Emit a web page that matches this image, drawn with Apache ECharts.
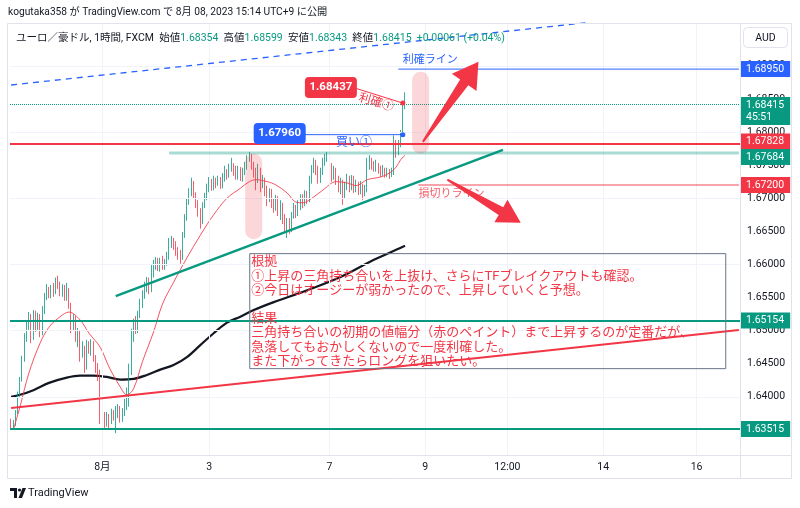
<!DOCTYPE html>
<html><head><meta charset="utf-8"><title>EURAUD 1H</title>
<script src="https://cdn.jsdelivr.net/npm/echarts/dist/echarts.min.js"></script>
<style>html,body{margin:0;padding:0;background:#fff}#c{width:800px;height:508px}</style>
</head><body><div id="c"></div>
<script>
// ---------- data ----------
const opens = [1.6362,1.6358,1.6359,1.6377,1.6403,1.6426,1.6456,1.6490,1.6509,1.6522,
1.6489,1.6524,1.6504,1.6522,1.6496,1.6531,1.6551,1.6560,1.6554,1.6563,
1.6558,1.6574,1.6570,1.6557,1.6566,1.6549,1.6561,1.6539,1.6504,1.6519,
1.6492,1.6498,1.6462,1.6474,1.6444,1.6478,1.6471,1.6481,1.6459,1.6448,
1.6438,1.6365,1.6374,1.6358,1.6371,1.6362,1.6377,1.6368,1.6373,1.6383,
1.6365,1.6377,1.6389,1.6408,1.6439,1.6493,1.6510,1.6501,1.6524,1.6542,
1.6552,1.6564,1.6572,1.6561,1.6589,1.6599,1.6604,1.6595,1.6604,1.6598,
1.6602,1.6610,1.6632,1.6637,1.6628,1.6619,1.6613,1.6608,1.6643,1.6670,
1.6693,1.6708,1.6722,1.6705,1.6693,1.6679,1.6667,1.6690,1.6703,1.6715,
1.6726,1.6717,1.6728,1.6722,1.6728,1.6720,1.6732,1.6740,1.6734,1.6746,
1.6750,1.6740,1.6734,1.6743,1.6731,1.6740,1.6750,1.6761,1.6764,1.6750,
1.6740,1.6728,1.6743,1.6720,1.6728,1.6712,1.6700,1.6709,1.6694,1.6685,
1.6700,1.6682,1.6690,1.6670,1.6658,1.6664,1.6652,1.6675,1.6682,1.6676,
1.6690,1.6700,1.6691,1.6705,1.6697,1.6728,1.6743,1.6753,1.6743,1.6728,
1.6740,1.6755,1.6761,1.6764,1.6749,1.6734,1.6743,1.6728,1.6719,1.6725,
1.6705,1.6719,1.6731,1.6722,1.6731,1.6715,1.6722,1.6712,1.6719,1.6706,
1.6712,1.6755,1.6758,1.6750,1.6746,1.6750,1.6743,1.6738,1.6743,1.6735,
1.6741,1.6734,1.6738,1.6776,1.6770,1.6783,1.67960,1.68354];
const closes = [1.6358,1.6359,1.6377,1.6403,1.6426,1.6456,1.6490,1.6509,1.6522,1.6489,
1.6524,1.6504,1.6522,1.6496,1.6531,1.6551,1.6560,1.6554,1.6563,1.6558,
1.6574,1.6570,1.6557,1.6566,1.6549,1.6561,1.6539,1.6504,1.6519,1.6492,
1.6498,1.6462,1.6474,1.6444,1.6478,1.6471,1.6481,1.6459,1.6448,1.6438,
1.6365,1.6374,1.6358,1.6371,1.6362,1.6377,1.6368,1.6373,1.6383,1.6365,
1.6377,1.6389,1.6408,1.6439,1.6493,1.6510,1.6501,1.6524,1.6542,1.6552,
1.6564,1.6572,1.6561,1.6589,1.6599,1.6604,1.6595,1.6604,1.6598,1.6602,
1.6610,1.6632,1.6637,1.6628,1.6619,1.6613,1.6608,1.6643,1.6670,1.6693,
1.6708,1.6722,1.6705,1.6693,1.6679,1.6667,1.6690,1.6703,1.6715,1.6726,
1.6717,1.6728,1.6722,1.6728,1.6720,1.6732,1.6740,1.6734,1.6746,1.6750,
1.6740,1.6734,1.6743,1.6731,1.6740,1.6750,1.6761,1.6764,1.6750,1.6740,
1.6728,1.6743,1.6720,1.6728,1.6712,1.6700,1.6709,1.6694,1.6685,1.6700,
1.6682,1.6690,1.6670,1.6658,1.6664,1.6652,1.6675,1.6682,1.6676,1.6690,
1.6700,1.6691,1.6705,1.6697,1.6728,1.6743,1.6753,1.6743,1.6728,1.6740,
1.6755,1.6761,1.6764,1.6749,1.6734,1.6743,1.6728,1.6719,1.6725,1.6705,
1.6719,1.6731,1.6722,1.6731,1.6715,1.6722,1.6712,1.6719,1.6706,1.6712,
1.6755,1.6758,1.6750,1.6746,1.6750,1.6743,1.6738,1.6743,1.6735,1.6741,
1.6734,1.6738,1.6776,1.6770,1.6783,1.67960,1.68354,1.68415];
const lows = [1.6353,1.6350,1.6356,1.6374,1.6400,1.6423,1.6453,1.6483,1.6501,1.6481,
1.6486,1.6498,1.6501,1.6490,1.6493,1.6525,1.6546,1.6549,1.6549,1.6551,
1.6555,1.6563,1.6552,1.6551,1.6545,1.6545,1.6533,1.6496,1.6500,1.6483,
1.6475,1.6453,1.6459,1.6436,1.6441,1.6465,1.6462,1.6453,1.6436,1.6424,
1.6359,1.6359,1.6353,1.6355,1.6353,1.6359,1.6364,1.6345,1.6368,1.6361,
1.6362,1.6371,1.6380,1.6385,1.6433,1.6483,1.6495,1.6496,1.6519,1.6534,
1.6548,1.6558,1.6555,1.6558,1.6580,1.6592,1.6590,1.6589,1.6592,1.6592,
1.6598,1.6607,1.6625,1.6622,1.6613,1.6607,1.6601,1.6607,1.6640,1.6666,
1.6690,1.6703,1.6699,1.6685,1.6672,1.6654,1.6661,1.6685,1.6697,1.6709,
1.6711,1.6712,1.6715,1.6719,1.6714,1.6715,1.6725,1.6728,1.6731,1.6740,
1.6734,1.6728,1.6728,1.6726,1.6725,1.6735,1.6743,1.6755,1.6743,1.6731,
1.6712,1.6723,1.6709,1.6715,1.6703,1.6688,1.6694,1.6685,1.6678,1.6681,
1.6673,1.6667,1.6661,1.6650,1.6640,1.6646,1.6649,1.6669,1.6670,1.6673,
1.6682,1.6685,1.6688,1.6691,1.6694,1.6722,1.6738,1.6735,1.6722,1.6723,
1.6735,1.6749,1.6755,1.6743,1.6725,1.6728,1.6720,1.6709,1.6706,1.6690,
1.6700,1.6712,1.6709,1.6712,1.6708,1.6709,1.6705,1.6706,1.6697,1.6703,
1.6709,1.6743,1.6743,1.6740,1.6740,1.6737,1.6732,1.6734,1.6731,1.6732,
1.6729,1.6732,1.6735,1.6761,1.6765,1.6777,1.6793,1.68343];
const highs = [1.6367,1.6365,1.6380,1.6408,1.6430,1.6462,1.6496,1.6513,1.6528,1.6525,
1.6531,1.6530,1.6527,1.6525,1.6537,1.6557,1.6570,1.6566,1.6569,1.6572,
1.6580,1.6583,1.6574,1.6570,1.6569,1.6572,1.6564,1.6542,1.6525,1.6522,
1.6504,1.6501,1.6484,1.6477,1.6486,1.6484,1.6487,1.6484,1.6463,1.6451,
1.6441,1.6380,1.6377,1.6377,1.6374,1.6382,1.6380,1.6386,1.6389,1.6386,
1.6383,1.6397,1.6414,1.6450,1.6503,1.6518,1.6522,1.6530,1.6548,1.6561,
1.6574,1.6581,1.6580,1.6599,1.6607,1.6611,1.6610,1.6610,1.6613,1.6608,
1.6619,1.6640,1.6643,1.6640,1.6635,1.6626,1.6622,1.6649,1.6676,1.6700,
1.6715,1.6731,1.6726,1.6709,1.6697,1.6685,1.6694,1.6708,1.6722,1.6732,
1.6729,1.6734,1.6731,1.6734,1.6732,1.6738,1.6749,1.6744,1.6752,1.6761,
1.6753,1.6749,1.6749,1.6747,1.6746,1.6755,1.6765,1.6770,1.6767,1.6755,
1.6746,1.6752,1.6746,1.6735,1.6731,1.6719,1.6715,1.6714,1.6700,1.6705,
1.6703,1.6697,1.6693,1.6676,1.6670,1.6670,1.6679,1.6693,1.6690,1.6697,
1.6706,1.6706,1.6712,1.6711,1.6734,1.6750,1.6761,1.6758,1.6749,1.6746,
1.6761,1.6767,1.6770,1.6767,1.6753,1.6749,1.6746,1.6734,1.6731,1.6728,
1.6725,1.6737,1.6734,1.6735,1.6734,1.6728,1.6725,1.6726,1.6722,1.6720,
1.6761,1.6765,1.6761,1.6756,1.6758,1.6753,1.6749,1.6750,1.6746,1.6746,
1.6744,1.6746,1.6795,1.6788,1.6788,1.6803,1.6845,1.68599];

// moving averages: [bar index, price]
const maFast = [[1,1.6350],[4,1.6385],[8,1.6436],[13,1.6481],[17,1.6505],[22,1.6521],[26,1.6528],[31,1.6516],[35,1.6496],[40,1.6475],[44,1.6445],[49,1.6415],[52,1.6403],[55,1.6412],[59,1.6453],[64,1.6498],[68,1.6540],[73,1.6573],[79,1.6610],[85,1.6644],[91,1.6675],[97,1.6700],[103,1.6715],[107,1.6725],[110,1.6728],[115,1.6725],[119,1.6720],[124,1.6708],[128,1.6694],[131,1.6693],[136,1.6702],[140,1.6712],[146,1.6725],[151,1.6723],[155,1.6719],[160,1.6728],[166,1.6732],[170,1.6738],[173,1.6747],[175,1.6758],[177,1.6765]];
const maSlow = [[0,1.6400],[4,1.6403],[10,1.6410],[17,1.6421],[25,1.6429],[31,1.6432],[37,1.6432],[43,1.6430],[49,1.6426],[55,1.6427],[61,1.6433],[67,1.6441],[73,1.6448],[79,1.6460],[85,1.6478],[91,1.6496],[97,1.6512],[103,1.6521],[109,1.6531],[118,1.6543],[133,1.6561],[148,1.6581],[163,1.6607],[173,1.6622],[177,1.6628]];

const priceTicks = [1.635,1.64,1.645,1.65,1.655,1.66,1.665,1.67,1.675,1.68,1.685,1.69,1.695];
const timeTicks = [[41,'8月'],[89,'3'],[143,'7'],[186,'9'],[223,'12:00'],[266,'14'],[308,'16']];
const slotCount = 328;

// horizontal levels drawn on the chart
const tpLevel = 1.6895, entryLevel = 1.67828, resistLevel = 1.67684, stopLevel = 1.672;
const support1 = 1.65154, support2 = 1.63515;
const tpStart = 174, resistStart = 71, stopStart = 183;
const countdown = '45:51';
// trend lines [bar index, price]
const channelLine = [[0,1.6871],[258,1.6965]];
const triangleLine = [[47,1.6552],[221,1.6773]];
const redTrend = [[0,1.6383],[327,1.6501]];
// trade marks
const buyPrice = 1.67960, takeProfit = 1.68437, tradeBar = 176;
// annotation anchors [bar index, price]
const pills = [[184,1.6891,1.6767],[109,1.6767,1.6638]];
const arrows = [[[185,1.6785],[210,1.6906]],[[196,1.6728],[229,1.6663]]];
const noteAnchor = [107,1.6617];
const noteText = ['根拠','①上昇の三角持ち合いを上抜け、さらにTFブレイクアウトも確認。','②今日はオージーが弱かったので、上昇していくと予想。','','結果','三角持ち合いの初期の値幅分（赤のペイント）まで上昇するのが定番だが、','急落してもおかしくないので一度利確した。','また下がってきたらロングを狙いたい。'];

// ---------- chart ----------
const FONT = "Roboto, 'Noto Sans CJK JP', sans-serif";
const UP = '#089981', DOWN = '#F23645', BLUE = '#2962FF', TXT = '#131722';
const cats = Array.from({length: slotCount}, (_, i) => String(i));
const tickMap = {}; timeTicks.forEach(t => { tickMap[t[0]] = t[1]; });
const fmt = v => v.toFixed(5);
const last = closes.length - 1;
const HIDDEN = { color: 'rgba(0,0,0,0)', width: 0.01, type: 'solid' };

function tag(v, bg, text, dy, line) {
  return { yAxis: v, lineStyle: line || HIDDEN,
    label: { show: true, position: 'end', distance: 0, formatter: text, color: '#fff', backgroundColor: bg,
      padding: [2, 6, 2, 6], fontSize: 10.5, lineHeight: 12, fontFamily: FONT, offset: [0, dy], opacity: 1 } };
}
function seg(pts, ls, z) {
  return { type: 'line', data: pts, symbol: 'none', silent: true, clip: true, z: z || 5, lineStyle: ls, animation: false };
}

const chart = echarts.init(document.getElementById('c'), null, { renderer: 'canvas' });
const option = {
  animation: false,
  backgroundColor: '#fff',
  grid: { left: 10, right: 60, top: 23, bottom: 53 },
  xAxis: { type: 'category', data: cats, boundaryGap: true,
    axisLine: { show: false }, axisTick: { show: false }, splitLine: { show: false },
    axisLabel: { interval: (i) => tickMap[i] !== undefined, formatter: (v, i) => tickMap[i] || '',
      color: TXT, fontSize: 10.5, fontFamily: FONT, margin: 7 } },
  yAxis: { type: 'value', position: 'right', min: 1.631208, max: 1.696465, scale: true,
    axisLine: { show: false }, axisTick: { show: false, customValues: priceTicks }, splitLine: { show: false },
    axisLabel: { customValues: priceTicks, formatter: v => fmt(v), color: TXT, fontSize: 10.5, fontFamily: FONT, margin: 7 } },
  series: [
    { type: 'line', data: [], z: 0, silent: true,
      markLine: { symbol: ['none', 'none'], silent: true, animation: false, label: { show: false },
        lineStyle: { color: '#f0f3fa', width: 1, type: 'solid' },
        data: priceTicks.map(v => ({ yAxis: v })).concat(timeTicks.map(t => ({ xAxis: String(t[0]) }))) } },
    { type: 'candlestick', z: 3, barWidth: 1.2,
      data: opens.map((o, i) => [o, closes[i], lows[i], highs[i]]),
      itemStyle: { color: UP, color0: DOWN, borderColor: UP, borderColor0: DOWN, borderWidth: 0.8 } },
    { type: 'line', data: maSlow, symbol: 'none', smooth: 0.35, z: 3, silent: true, lineStyle: { color: TXT, width: 2.2 } },
    { type: 'line', data: maFast, symbol: 'none', smooth: 0.35, z: 4, silent: true, lineStyle: { color: DOWN, width: 1, opacity: 0.85 } },
    seg(channelLine, { color: BLUE, width: 1.3, type: [6, 5] }),
    seg(redTrend, { color: DOWN, width: 2 }),
    seg(triangleLine, { color: UP, width: 2.5 }),
    seg([[tpStart, tpLevel], [slotCount - 1, tpLevel]], { color: BLUE, width: 1 }),
    seg([[resistStart, resistLevel], [slotCount - 1, resistLevel]], { color: 'rgba(8,153,129,0.35)', width: 3 }),
    seg([[stopStart, stopLevel], [slotCount - 1, stopLevel]], { color: 'rgba(242,54,69,0.45)', width: 2 }),
    { type: 'line', data: [], z: 6, silent: true,
      markLine: { symbol: ['none', 'none'], silent: true, animation: false, precision: 5,
        data: [
          tag(tpLevel, BLUE, fmt(tpLevel), 0),
          tag(closes[last], UP, fmt(closes[last]) + '\n' + countdown, 6.5, { color: UP, width: 1, type: 'dotted' }),
          tag(entryLevel, DOWN, fmt(entryLevel), -2, { color: DOWN, width: 2, type: 'solid' }),
          tag(resistLevel, UP, fmt(resistLevel), 4),
          tag(stopLevel, DOWN, fmt(stopLevel), 0),
          tag(support1, UP, fmt(support1), 0, { color: UP, width: 2, type: 'solid' }),
          tag(support2, UP, fmt(support2), 0, { color: UP, width: 2, type: 'solid' })
        ] } }
  ]
};
chart.setOption(option);

// ---------- annotations placed through the axes ----------
const P = (i, p) => chart.convertToPixel({ gridIndex: 0 }, [i, p]);
const g = [];
function txt(x, y, text, font, fill, align, valign, extra) {
  return Object.assign({ type: 'text', x: x, y: y, z: 100,
    style: { text: text, font: font, fill: fill, align: align || 'left', verticalAlign: valign || 'middle',
      textAlign: align || 'left', textVerticalAlign: valign || 'middle' } }, extra || {});
}
pills.forEach(pl => {
  const a = P(pl[0], pl[1]), b = P(pl[0], pl[2]);
  g.push({ type: 'rect', z: 30, shape: { x: a[0] - 8.5, y: a[1], width: 17, height: b[1] - a[1], r: 8.5 },
    style: { fill: 'rgba(242,54,69,0.2)' } });
});
function arrowPts(t, h, hl, hh, sh, th) {
  const dx = h[0] - t[0], dy = h[1] - t[1], L = Math.hypot(dx, dy);
  const ux = dx / L, uy = dy / L, nx = -uy, ny = ux;
  const bx = h[0] - ux * hl, by = h[1] - uy * hl;
  return [[t[0] + nx * th, t[1] + ny * th], [bx + nx * sh, by + ny * sh], [bx + nx * hh, by + ny * hh], [h[0], h[1]],
    [bx - nx * hh, by - ny * hh], [bx - nx * sh, by - ny * sh], [t[0] - nx * th, t[1] - ny * th]];
}
// labels for the lines
{
  const a = P(tpStart + 2, tpLevel); g.push(txt(a[0], a[1] - 9, '利確ライン', '11px ' + FONT, BLUE));
  const b = P(stopStart, stopLevel); g.push(txt(b[0], b[1] + 9, '損切りライン', '11px ' + FONT, 'rgba(242,54,69,0.8)'));
}
const arrowSizes = [[25, 15, 5, 1], [23, 13, 4.5, 1]];
arrows.forEach((ar, k) => {
  const t = P(ar[0][0], ar[0][1]), h = P(ar[1][0], ar[1][1]); const s = arrowSizes[k];
  g.push({ type: 'polygon', z: 40, shape: { points: arrowPts(t, h, s[0], s[1], s[2], s[3]) }, style: { fill: DOWN } });
});
// trade callouts
{
  const tp = P(tradeBar, takeProfit), bp = P(tradeBar, buyPrice);
  const rb = P(132, 1.6883), bb = P(109, 1.68136);
  g.push({ type: 'line', z: 50, shape: { x1: rb[0] + 50, y1: rb[1] + 11, x2: tp[0], y2: tp[1] }, style: { stroke: DOWN, lineWidth: 1 } });
  g.push({ type: 'line', z: 50, shape: { x1: bb[0] + 50, y1: bp[1], x2: bp[0], y2: bp[1] }, style: { stroke: BLUE, lineWidth: 1 } });
  g.push({ type: 'rect', z: 51, shape: { x: rb[0], y: rb[1], width: 52, height: 21, r: 4 }, style: { fill: DOWN } });
  g.push(txt(rb[0] + 26, rb[1] + 10.5, fmt(takeProfit), 'bold 11.5px ' + FONT, '#fff', 'center', 'middle', { z: 52 }));
  g.push({ type: 'rect', z: 51, shape: { x: bb[0], y: bb[1], width: 52, height: 21, r: 4 }, style: { fill: BLUE } });
  g.push(txt(bb[0] + 26, bb[1] + 10.5, fmt(buyPrice), 'bold 11.5px ' + FONT, '#fff', 'center', 'middle', { z: 52 }));
  g.push({ type: 'circle', z: 53, shape: { cx: tp[0], cy: tp[1], r: 2.5 }, style: { fill: DOWN } });
  g.push({ type: 'circle', z: 53, shape: { cx: bp[0], cy: bp[1], r: 2.5 }, style: { fill: BLUE } });
  const bl = P(146, 1.6783); g.push(txt(bl[0], bl[1], '買い①', '12px ' + FONT, BLUE));
  const rl = P(164, 1.6844); g.push(txt(rl[0], rl[1], '利確①', '12px ' + FONT, DOWN, 'center', 'middle', { rotation: -16 * Math.PI / 180 }));
}
// note box
{
  const a = P(noteAnchor[0], noteAnchor[1]);
  g.push({ type: 'rect', z: 60, shape: { x: a[0] + 0.5, y: a[1] + 0.5, width: 476, height: 115 }, style: { fill: 'rgba(255,255,255,0)', stroke: '#6a7585', lineWidth: 1 } });
  g.push({ type: 'text', z: 61, x: a[0] + 2, y: a[1] + 2,
    style: { text: noteText.join('\n'), font: '13px ' + FONT, fill: DOWN, lineHeight: 14.2, align: 'left', verticalAlign: 'top', textAlign: 'left', textVerticalAlign: 'top' } });
}
// frame, header, legend, logo
g.push({ type: 'rect', z: 90, shape: { x: 7.5, y: 23.5, width: 784, height: 455 }, style: { fill: 'none', stroke: '#e0e3eb', lineWidth: 1 } });
g.push({ type: 'line', z: 90, shape: { x1: 8, y1: 455.5, x2: 792, y2: 455.5 }, style: { stroke: '#e0e3eb', lineWidth: 1 } });
g.push({ type: 'line', z: 90, shape: { x1: 740.5, y1: 24, x2: 740.5, y2: 478 }, style: { stroke: '#e0e3eb', lineWidth: 1 } });
g.push(txt(8, 12, 'kogutaka358 が TradingView.com で 8月 08, 2023 15:14 UTC+9 に公開', '10.2px ' + FONT, TXT));
{
  const chg = closes[last] - closes[last - 1];
  const pct = chg / closes[last - 1] * 100;
  const sgn = chg >= 0 ? '+' : '';
  const legend = '{n|ユーロ／豪ドル, 1時間, FXCM}  {n|始値}{v|' + fmt(opens[last]) + '}  {n|高値}{v|' + fmt(highs[last]) +
    '}  {n|安値}{v|' + fmt(lows[last]) + '}  {n|終値}{v|' + fmt(closes[last]) + '}  {v|' + sgn + fmt(chg) + ' (' + sgn + pct.toFixed(2) + '%)}';
  g.push({ type: 'text', z: 100, x: 16, y: 38,
    style: { text: legend, fontSize: 10.5, fontFamily: FONT, verticalAlign: 'middle', textVerticalAlign: 'middle',
      rich: { n: { fill: TXT, fontSize: 10.5, fontFamily: FONT }, v: { fill: UP, fontSize: 10.5, fontFamily: FONT } } } });
}
g.push({ type: 'rect', z: 100, shape: { x: 743.5, y: 27.5, width: 44, height: 20, r: 4 }, style: { fill: '#fff', stroke: '#e0e3eb', lineWidth: 1 } });
g.push(txt(765.5, 38, 'AUD', '10.5px ' + FONT, TXT, 'center', 'middle'));
g.push({ type: 'polygon', z: 100, shape: { points: [[10, 488], [17, 488], [17, 498], [14, 498], [14, 491], [10, 491]] }, style: { fill: TXT } });
g.push({ type: 'circle', z: 100, shape: { cx: 19.5, cy: 490, r: 1.6 }, style: { fill: TXT } });
g.push({ type: 'polygon', z: 100, shape: { points: [[22.5, 488], [26, 488], [22, 498], [18.5, 498]] }, style: { fill: TXT } });
g.push(txt(28, 493, 'TradingView', '11px ' + FONT, TXT));
chart.setOption({ graphic: { elements: g } });
</script>
</body></html>
